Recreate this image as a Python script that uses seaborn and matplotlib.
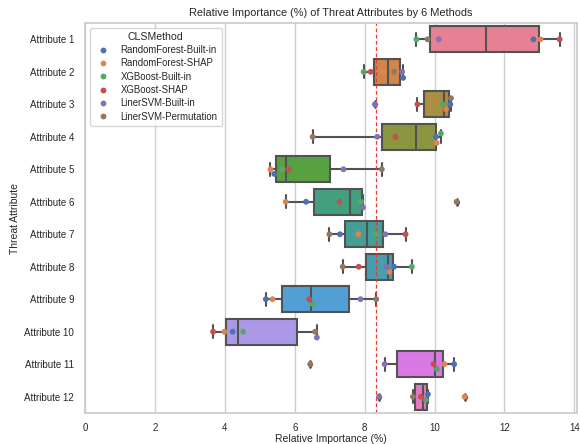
import matplotlib
matplotlib.use("Agg")
import matplotlib.pyplot as plt
import seaborn as sns
import pandas as pd

attributes = [f"Attribute {i}" for i in range(1, 13)]
methods = ["RandomForest-Built-in", "RandomForest-SHAP", "XGBoost-Built-in",
           "XGBoost-SHAP", "LinerSVM-Built-in", "LinerSVM-Permutation"]

rf_builtin = [12.83, 9.10, 10.45, 10.04, 5.41, 6.32, 7.29, 8.84, 5.17, 4.22, 10.56, 9.81]
rf_shap    = [13.03, 8.51, 10.33, 10.06, 5.30, 5.74, 7.82, 8.71, 5.36, 3.98, 10.28, 10.86]
xgb_builtin = [9.48, 7.97, 10.23, 10.18, 5.65, 7.89, 8.33, 9.35, 6.51, 4.52, 10.07, 9.75]
xgb_shap   = [13.58, 8.17, 9.51, 8.88, 5.82, 7.28, 9.17, 7.83, 6.41, 3.66, 9.97, 9.61]
svm_builtin = [10.12, 9.07, 8.29, 8.36, 7.39, 7.95, 8.59, 8.62, 7.88, 6.63, 8.57, 8.41]
svm_perm   = [9.80, 8.84, 10.47, 6.51, 8.49, 10.63, 6.99, 7.37, 8.33, 6.58, 6.44, 9.38]

series = [rf_builtin, rf_shap, xgb_builtin, xgb_shap, svm_builtin, svm_perm]
rows = []
for m, vals in zip(methods, series):
    for a, v in zip(attributes, vals):
        rows.append({"Threat Attribute": a, "CLSMethod": m, "Relative Importance (%)": v})
df = pd.DataFrame(rows)

sns.set_theme(style="whitegrid")
plt.rcParams['font.family'] = ['Liberation Sans', 'DejaVu Sans']

fig, ax = plt.subplots(figsize=(5.8, 4.44), dpi=100)
fig.subplots_adjust(left=0.147, right=0.995, top=0.948, bottom=0.07)

sns.boxplot(data=df, x="Relative Importance (%)", y="Threat Attribute",
            hue="Threat Attribute", palette="husl", legend=False, order=attributes,
            linewidth=1.5, linecolor="0.32", saturation=0.75,
            flierprops=dict(marker="d", markersize=4, markerfacecolor="0.3",
                            markeredgecolor="0.3"), ax=ax)
sns.swarmplot(data=df, x="Relative Importance (%)", y="Threat Attribute",
              hue="CLSMethod", palette="deep", order=attributes, size=4.2, ax=ax)

ax.axvline(100 / 12, color="#e8392a", linestyle=(0, (3, 2)), linewidth=0.9)
ax.set_xlim(0, 14.08)
ax.set_xticks([0, 2, 4, 6, 8, 10, 12, 14])
ax.tick_params(axis="x", labelsize=7, pad=1)
ax.tick_params(axis="y", labelsize=7, pad=2)
ax.set_xlabel("Relative Importance (%)", fontsize=7.5, labelpad=1)
ax.set_ylabel("Threat Attribute", fontsize=7.5, labelpad=3)
ax.set_title("Relative Importance (%) of Threat Attributes by 6 Methods", fontsize=7.9, pad=5)
leg = ax.legend(title="CLSMethod", loc="upper left", fontsize=6.9, title_fontsize=7.6,
                markerscale=1.0, borderpad=0.4, labelspacing=0.35, handletextpad=0.8)

fig.savefig("out.png", dpi=100)
